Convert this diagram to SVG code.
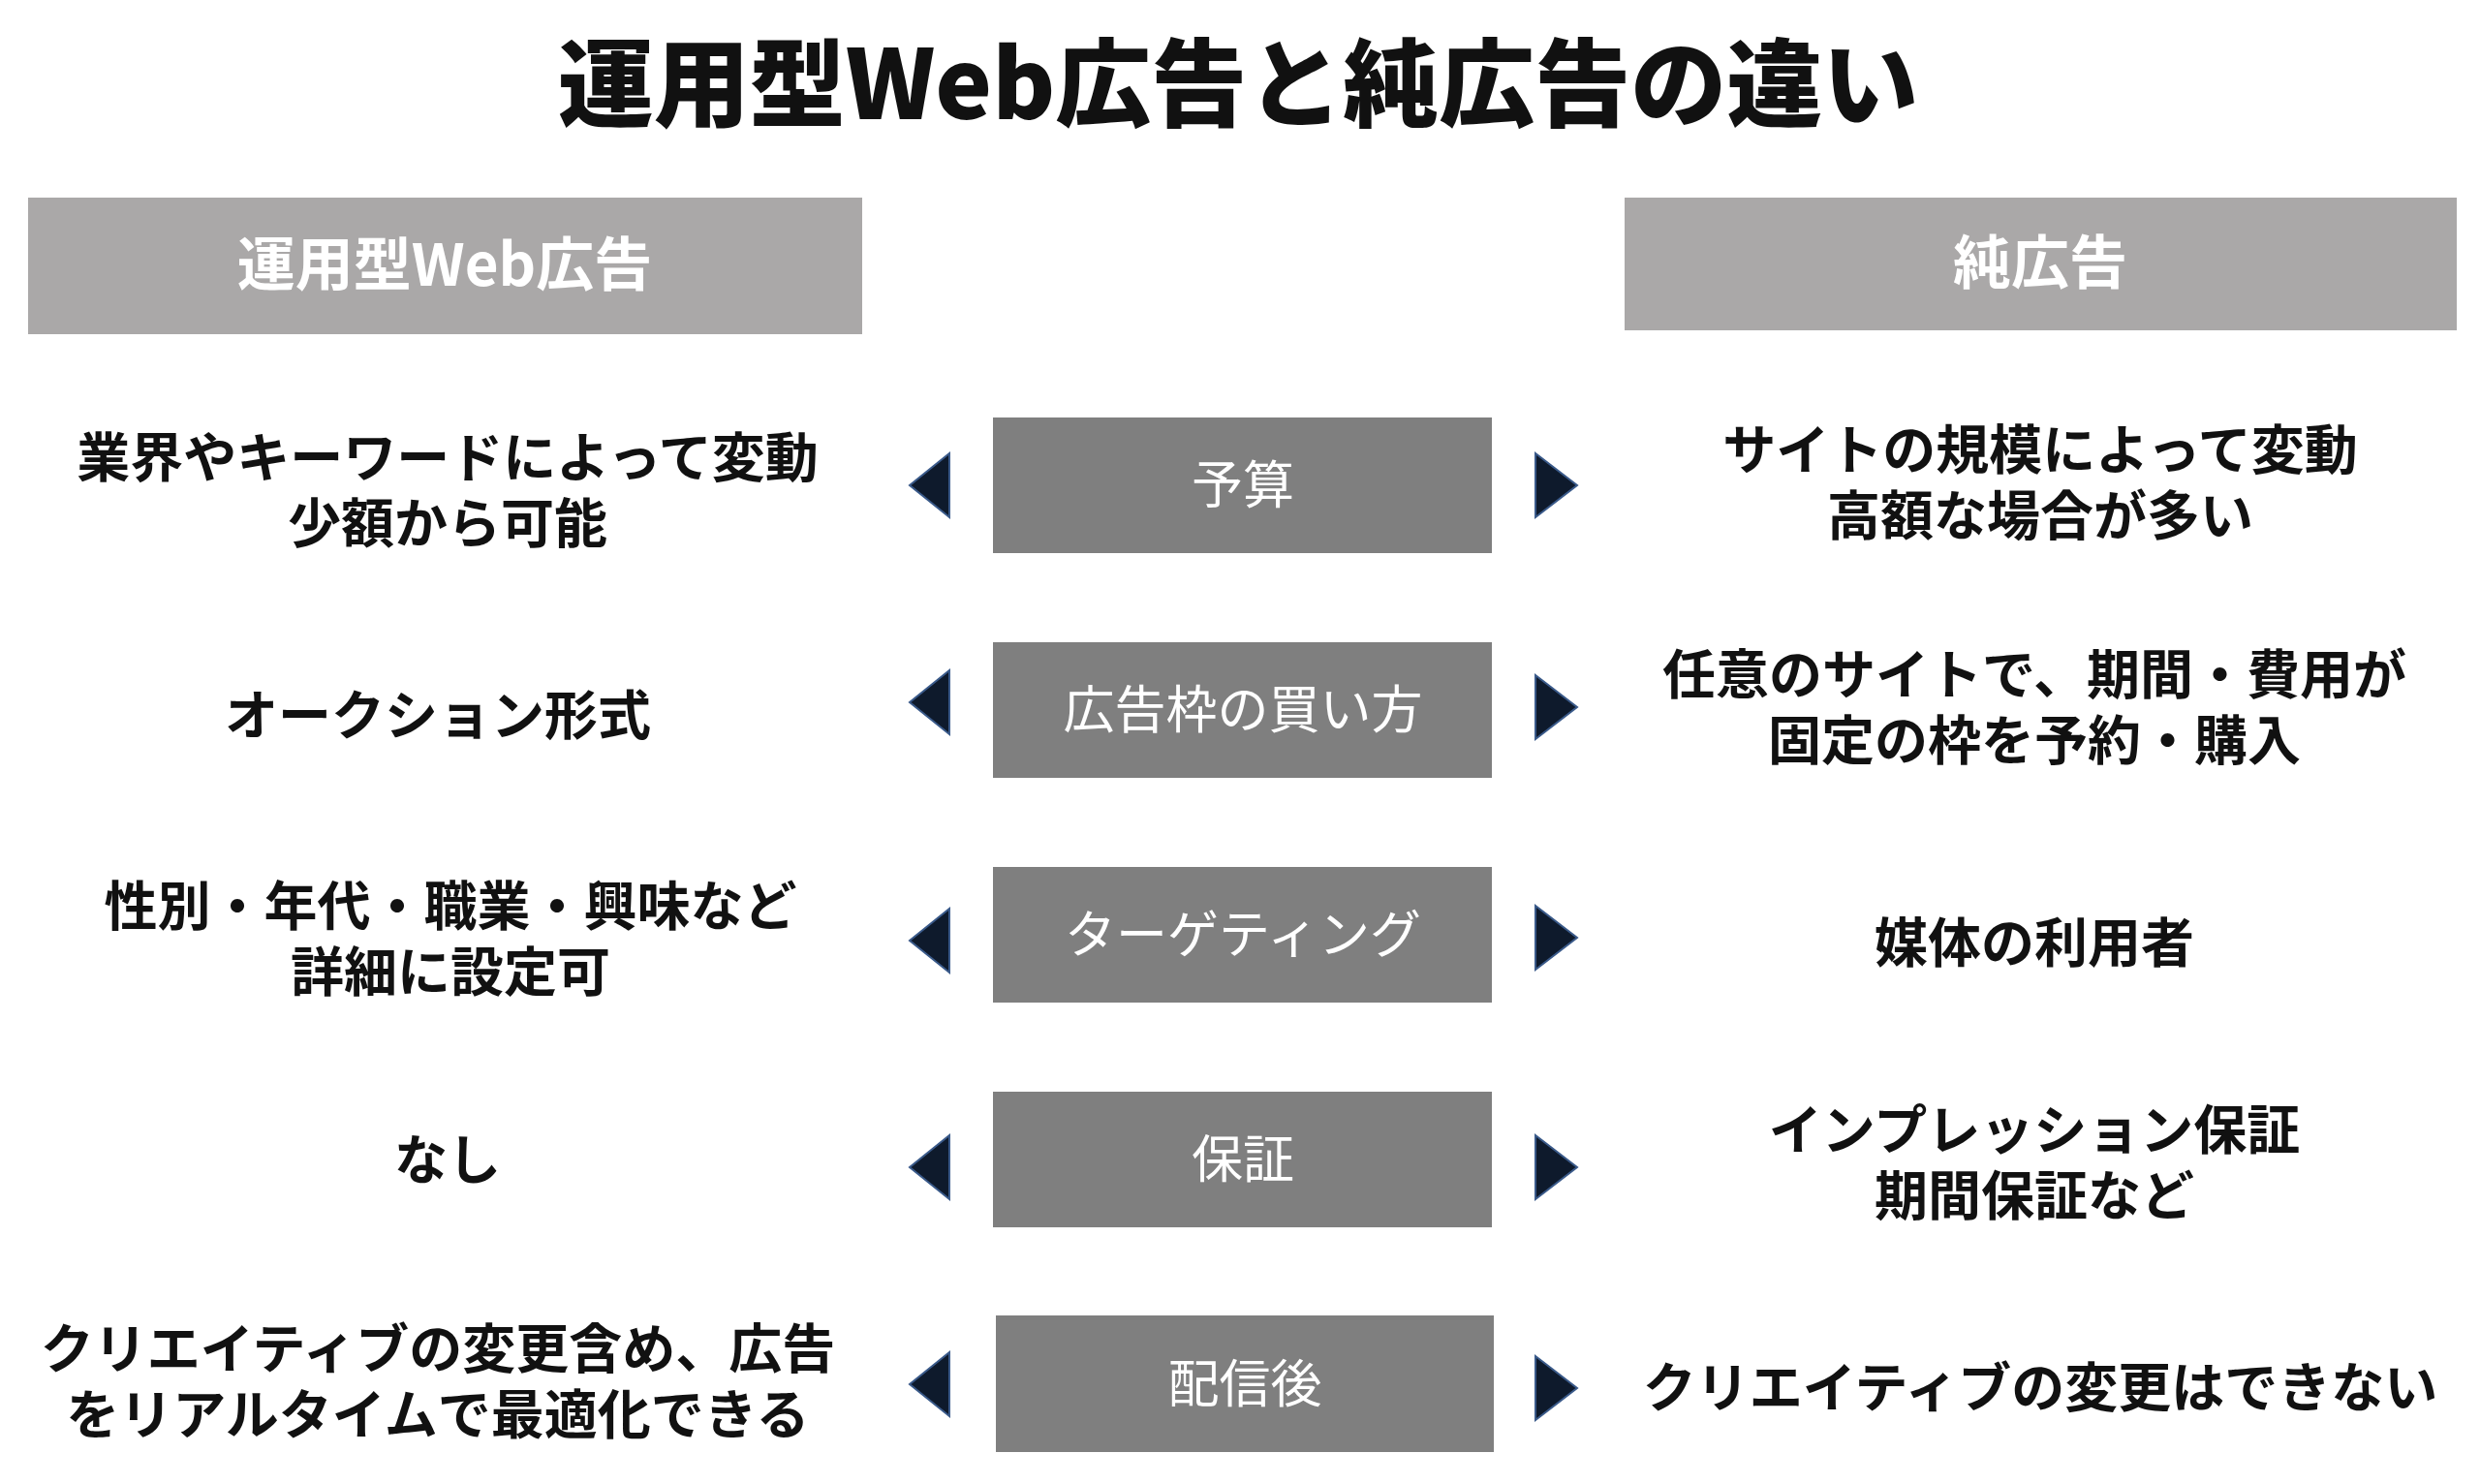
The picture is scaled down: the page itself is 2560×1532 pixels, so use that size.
<svg xmlns="http://www.w3.org/2000/svg" width="2560" height="1532" viewBox="0 0 2560 1532">
<style>
text{font-family:"Noto Sans CJK JP","Noto Sans",sans-serif;dominant-baseline:central;text-anchor:middle}
.title{font-size:99px;font-weight:900;fill:#111}
.hd{fill:#aaa8a8}
.hdt{font-size:60px;font-weight:700;fill:#fff}
.box{fill:#7f7f7f}
.bt{font-size:53px;fill:#fff;font-weight:400}
.tx{font-size:55px;font-weight:700;fill:#111}
.ar{fill:#0e1a2c;stroke:#3a5a8a;stroke-width:2}
</style>
<rect width="2560" height="1532" fill="#fff"/>
<text class="title" x="1278" y="80">運用型Web広告と純広告の違い</text>
<g id="hdr-left"><rect class="hd" x="29" y="204" width="861" height="141"/><text class="hdt" x="459" y="268">運用型Web広告</text></g>
<g id="hdr-right"><rect class="hd" x="1677" y="204" width="859" height="137"/><text class="hdt" x="2106" y="266">純広告</text></g>
<g id="row1">
<rect class="box" x="1025" y="431" width="515" height="140"/><text class="bt" x="1283" y="497">予算</text>
<text class="tx" x="462" y="468">業界やキーワードによって変動</text><text class="tx" x="462" y="536">少額から可能</text>
<text class="tx" x="2106" y="460">サイトの規模によって変動</text><text class="tx" x="2106" y="528">高額な場合が多い</text>
</g>
<g id="row2">
<rect class="box" x="1025" y="663" width="515" height="140"/><text class="bt" x="1283" y="729">広告枠の買い方</text>
<text class="tx" x="452" y="734">オークション形式</text>
<text class="tx" x="2100" y="692">任意のサイトで、期間・費用が</text><text class="tx" x="2100" y="760">固定の枠を予約・購入</text>
</g>
<g id="row3">
<rect class="box" x="1025" y="895" width="515" height="140"/><text class="bt" x="1283" y="961">ターゲティング</text>
<text class="tx" x="465" y="931">性別・年代・職業・興味など</text><text class="tx" x="465" y="999">詳細に設定可</text>
<text class="tx" x="2100" y="969">媒体の利用者</text>
</g>
<g id="row4">
<rect class="box" x="1025" y="1127" width="515" height="140"/><text class="bt" x="1283" y="1193">保証</text>
<text class="tx" x="462" y="1193">なし</text>
<text class="tx" x="2100" y="1162">インプレッション保証</text><text class="tx" x="2100" y="1230">期間保証など</text>
</g>
<g id="row5">
<rect class="box" x="1028" y="1358" width="514" height="141"/><text class="bt" x="1285" y="1425">配信後</text>
<text class="tx" x="452" y="1388">クリエイティブの変更含め、広告</text><text class="tx" x="452" y="1456">をリアルタイムで最適化できる</text>
<text class="tx" x="2106" y="1428">クリエイティブの変更はできない</text>
</g>
<g id="connectors">
<polygon class="ar" points="980,468 939,501 980,534"/><polygon class="ar" points="1585,468 1628,501 1585,534"/>
<polygon class="ar" points="980,692 939,725 980,758"/><polygon class="ar" points="1585,697 1628,730 1585,763"/>
<polygon class="ar" points="980,938 939,971 980,1004"/><polygon class="ar" points="1585,935 1628,968 1585,1001"/>
<polygon class="ar" points="980,1172 939,1205 980,1238"/><polygon class="ar" points="1585,1172 1628,1205 1585,1238"/>
<polygon class="ar" points="980,1396 939,1429 980,1462"/><polygon class="ar" points="1585,1400 1628,1433 1585,1466"/>
</g>
</svg>
